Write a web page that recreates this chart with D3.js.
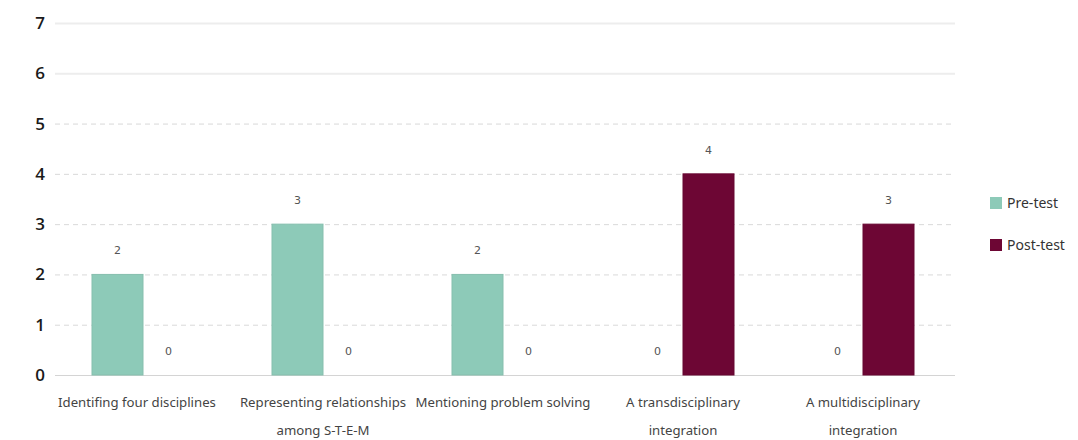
<!DOCTYPE html>
<html>
<head>
<meta charset="utf-8">
<script src="https://cdn.jsdelivr.net/npm/d3@7"></script>
<style>
  html, body { margin: 0; padding: 0; background: #fff; }
  svg { display: block; }
</style>
</head>
<body>
<svg id="chart" width="1078" height="440"></svg>
<script>
// Category labels (split over lines where the label wraps)
const categories = [
  ["Identifing four disciplines"],
  ["Representing relationships", "among S-T-E-M"],
  ["Mentioning problem solving"],
  ["A transdisciplinary", "integration"],
  ["A multidisciplinary", "integration"]
];
const seriesNames = ["Pre-test", "Post-test"];
const preTest = [2, 3, 2, 0, 0];
const postTest = [0, 0, 0, 4, 3];
const yTicks = [0, 1, 2, 3, 4, 5, 6, 7];
const colors = ["#8dcab8", "#6d0634"];

const svg = d3.select("#chart");
const margin = { left: 53 };
const plotW = 900;

const x0 = d3.scaleBand()
  .domain(d3.range(categories.length))
  .range([margin.left, margin.left + plotW])
  .padding(0);

const barW = 51;
const x1 = d3.scaleBand()
  .domain(seriesNames)
  .range([-barW, barW])
  .padding(0);

const y = d3.scaleLinear().domain([0, 7]).range([375, 23]);

// Horizontal gridlines (upper two are faint solid, the rest dashed)
const grid = svg.append("g");
grid.selectAll("line")
  .data(yTicks.filter(d => d > 0))
  .join("line")
  .attr("x1", margin.left + 2)
  .attr("x2", margin.left + plotW + 2)
  .attr("y1", d => y(d) + 0.5)
  .attr("y2", d => y(d) + 0.5)
  .attr("stroke", d => d >= 6 ? "#ededed" : "#d9d9d9")
  .attr("stroke-width", d => d >= 6 ? 2 : 1)
  .attr("stroke-dasharray", d => d >= 6 ? null : "5,4");

// Baseline
svg.append("line")
  .attr("x1", margin.left + 2)
  .attr("x2", margin.left + plotW + 2)
  .attr("y1", y(0) + 0.5)
  .attr("y2", y(0) + 0.5)
  .attr("stroke", "#d4d4d4")
  .attr("stroke-width", 1);

// Y axis labels
const yAxis = d3.axisLeft(y).tickValues(yTicks).tickFormat(d3.format("d")).tickSize(0).tickPadding(0);
const yg = svg.append("g")
  .attr("transform", "translate(47,0)")
  .call(yAxis);
yg.select(".domain").remove();
yg.selectAll("text")
  .attr("font-family", "'Open Sans', sans-serif")
  .attr("font-size", 17)
  .attr("font-weight", 600)
  .attr("fill", "#1a1a1a")
  .attr("text-anchor", "middle")
  .attr("dx", -7)
  .attr("dy", "0.32em");

// Bars and value labels
const rows = categories.map((c, i) => ({
  i,
  values: [
    { key: seriesNames[0], v: preTest[i], c: colors[0] },
    { key: seriesNames[1], v: postTest[i], c: colors[1] }
  ]
}));

const groups = svg.append("g").selectAll("g")
  .data(rows)
  .join("g")
  .attr("transform", d => `translate(${x0(d.i) + x0.bandwidth() / 2},0)`);

groups.selectAll("rect")
  .data(d => d.values)
  .join("rect")
  .attr("x", d => x1(d.key))
  .attr("width", x1.bandwidth())
  .attr("y", d => y(d.v))
  .attr("height", d => y(0) - y(d.v))
  .attr("fill", d => d.c)
  .attr("stroke", d => d3.color(d.c).darker(0.15))
  .attr("stroke-width", 1);

groups.selectAll("text.val")
  .data(d => d.values)
  .join("text")
  .attr("class", "val")
  .attr("x", d => x1(d.key) + x1.bandwidth() / 2)
  .attr("y", d => y(d.v) - 20)
  .attr("text-anchor", "middle")
  .attr("font-family", "'DejaVu Sans', sans-serif")
  .attr("font-size", 11)
  .attr("fill", "#555")
  .text(d => d.v);

// Category labels
const xl = svg.append("g").selectAll("text")
  .data(categories)
  .join("text")
  .attr("x", (d, i) => x0(i) + x0.bandwidth() / 2)
  .attr("y", 407)
  .attr("text-anchor", "middle")
  .attr("font-family", "'Noto Sans', sans-serif")
  .attr("font-size", 13.2)
  .attr("fill", "#444");
xl.each(function(lines) {
  d3.select(this).selectAll("tspan")
    .data(lines)
    .join("tspan")
    .attr("x", d3.select(this).attr("x"))
    .attr("dy", (d, j) => j === 0 ? 0 : 28)
    .text(d => d);
});
// first category label sits slightly left of its group
xl.filter((d, i) => i === 0).attr("transform", "translate(-6,0)");

// Legend
const legend = svg.append("g").attr("transform", "translate(990,0)");
const ly = [203, 245];
seriesNames.forEach((name, i) => {
  legend.append("rect")
    .attr("x", 0).attr("y", ly[i] - 6)
    .attr("width", 12).attr("height", 12)
    .attr("fill", colors[i]);
  legend.append("text")
    .attr("x", 17).attr("y", ly[i])
    .attr("dy", "0.35em")
    .attr("font-family", "'Noto Sans', sans-serif")
    .attr("font-size", 14)
    .attr("fill", "#333")
    .text(name);
});
</script>
</body>
</html>
